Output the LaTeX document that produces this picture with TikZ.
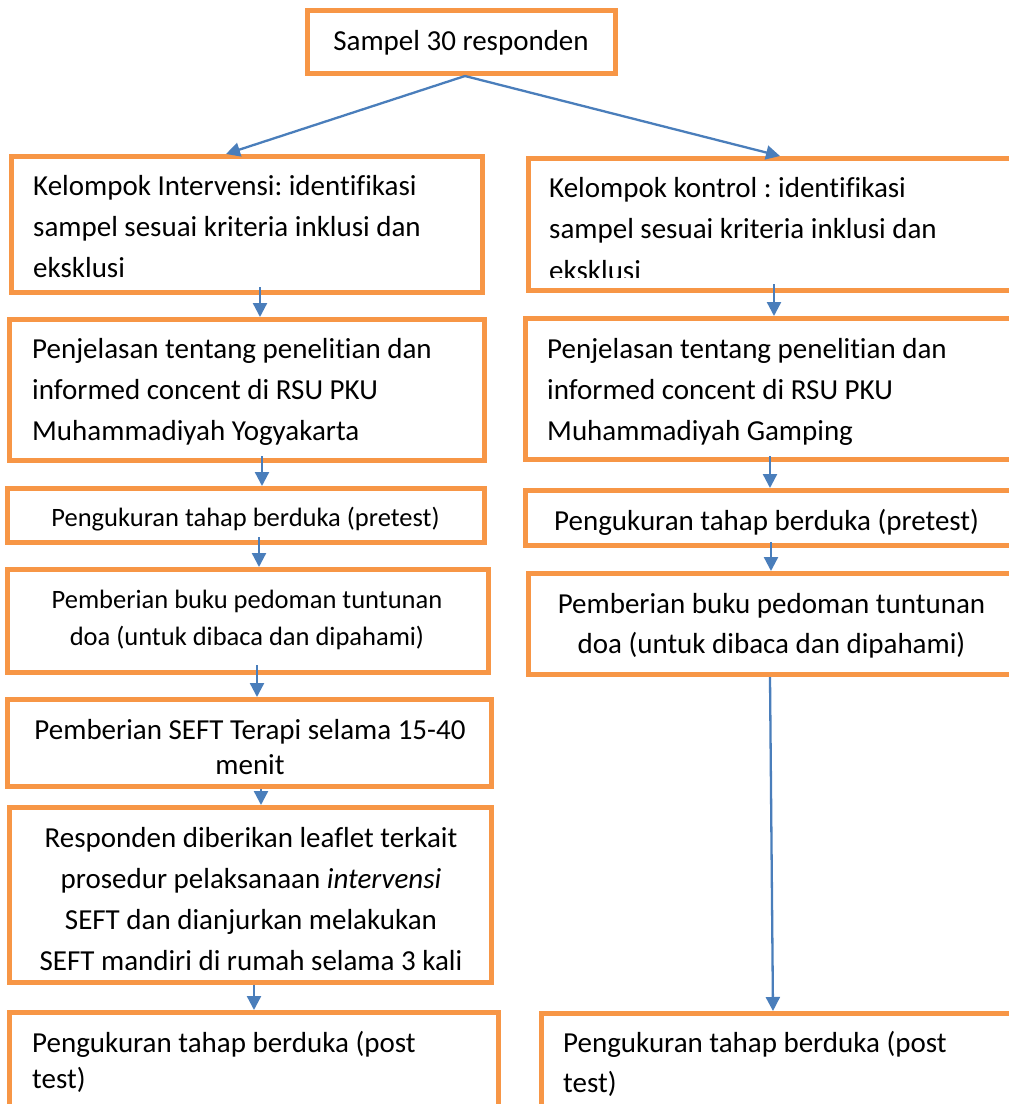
\documentclass[tikz,border=0pt]{standalone}
\usepackage{fontspec}
\setmainfont{Carlito}[Ligatures={NoCommon}]
\usetikzlibrary{arrows.meta,calc}
\definecolor{boxor}{HTML}{F79646}
\definecolor{arrblue}{HTML}{4A7EBB}
\newcommand{\llines}[1]{\begin{tabular}[t]{@{}l@{}}#1\end{tabular}}
\newcommand{\clines}[1]{\begin{tabular}[t]{@{}c@{}}#1\end{tabular}}
\frenchspacing
\tikzset{
  box/.style={draw=boxor, line width=5pt, rectangle, inner sep=0pt, anchor=north west, fill=white},
  txt/.style={inner sep=0pt, anchor=base west, text=black},
  ctxt/.style={inner sep=0pt, anchor=base, text=black},
  arr/.style={draw=arrblue, line width=2.3pt, -{Triangle[length=14pt,width=14pt]}},
  big/.style={font=\fontsize{29}{41}\selectfont},
  small/.style={font=\fontsize{26.5}{37}\selectfont}
}
\begin{document}
\begin{tikzpicture}[x=1pt,y=-1pt]
\useasboundingbox[fill=white] (0,0) rectangle (1009,1104);
% boxes (outer top-left corner; size = centre-line size)
\node[box, minimum width=308pt, minimum height=63pt] (T) at (305,8) {};
\node[box, minimum width=471pt, minimum height=136pt] (L1) at (9,154) {};
\node[box, minimum width=482.5pt, minimum height=132pt] (R1) at (526,156) {};
\node[box, minimum width=475pt, minimum height=141pt] (L2) at (7,317) {};
\node[box, minimum width=489pt, minimum height=141pt] (R2) at (523,316) {};
\node[box, minimum width=477pt, minimum height=54pt] (L3) at (5,486) {};
\node[box, minimum width=489pt, minimum height=55pt] (R3) at (523,488) {};
\node[box, minimum width=481pt, minimum height=103pt] (L4) at (5,567) {};
\node[box, minimum width=486pt, minimum height=101pt] (R4) at (526,571) {};
\node[box, minimum width=484pt, minimum height=87pt] (L5) at (5,697) {};
\node[box, minimum width=482pt, minimum height=175pt] (L6) at (7,805) {};
\node[box, minimum width=489pt, minimum height=110pt] (L7) at (7,1010) {};
\node[box, minimum width=469.5pt, minimum height=109pt] (R7) at (539,1011) {};
% texts
\node[ctxt, big] (tT) at (461,50) {Sampel 30 responden};
\node[txt, big] (tL1) at (33,195) {\llines{Kelompok Intervensi: identifikasi\\sampel sesuai kriteria inklusi dan\\eksklusi}};
\begin{scope}
\clip (528,160) rectangle (1009,277.5);
\node[txt, font=\fontsize{29}{41.5}\selectfont] (tR1) at (549,197) {\llines{Kelompok kontrol : identifikasi\\sampel sesuai kriteria inklusi dan\\eksklusi}};
\end{scope}
\node[txt, big] (tL2) at (32,358) {\llines{Penjelasan tentang penelitian dan\\informed concent di RSU PKU\\Muhammadiyah Yogyakarta}};
\node[txt, big] (tR2) at (547,358) {\llines{Penjelasan tentang penelitian dan\\informed concent di RSU PKU\\Muhammadiyah Gamping}};
\node[ctxt, small] (tL3) at (245.5,526) {Pengukuran tahap berduka (pretest)};
\begin{scope}
\clip (525,490) rectangle (1009,535);
\node[txt, big] (tR3) at (554,530) {Pengukuran tahap berduka (pretest)};
\end{scope}
\node[ctxt, small] (tL4) at (247,608) {\clines{Pemberian buku pedoman tuntunan\\doa (untuk dibaca dan dipahami)}};
\node[ctxt, font=\fontsize{29}{40}\selectfont] (tR4) at (771.5,613) {\clines{Pemberian buku pedoman tuntunan\\doa (untuk dibaca dan dipahami)}};
\node[ctxt, font=\fontsize{29}{35}\selectfont] (tL5) at (250,739) {\clines{Pemberian SEFT Terapi selama 15-40\\menit}};
\node[ctxt, big] (tL6) at (251,847) {\clines{Responden diberikan leaflet terkait\\prosedur pelaksanaan \textit{intervensi}\\SEFT dan dianjurkan melakukan\\SEFT mandiri di rumah selama 3 kali}};
\node[txt, font=\fontsize{29}{36}\selectfont] (tL7) at (32,1052) {\llines{Pengukuran tahap berduka (post\\test)}};
\node[txt, font=\fontsize{29}{40}\selectfont] (tR7) at (563,1052) {\llines{Pengukuran tahap berduka (post\\test)}};
% connectors
\draw[arr] (T.south -| 465,0) -- (L1.north -| 226,0);
\draw[arr] (T.south -| 465,0) -- (R1.north -| 780,0);
\draw[arr] ($(L1.south -| 260,0)+(0,-8)$) -- (L2.north -| 260,0);
\draw[arr] ($(L2.south -| 262,0)+(0,-7)$) -- (L3.north -| 262,0);
\draw[arr] ($(L3.south -| 259,0)+(0,-8)$) -- (L4.north -| 259,0);
\draw[arr] ($(L4.south -| 257,0)+(0,-10)$) -- (L5.north -| 257,0);
\draw[arr] (L5.south -| 261,0) -- (L6.north -| 261,0);
\draw[arr] (L6.south -| 254,0) -- (L7.north -| 254,0);
\draw[arr] ($(R1.south -| 774,0)+(0,-9)$) -- (R2.north -| 774,0);
\draw[arr] ($(R2.south -| 770,0)+(0,-6)$) -- (R3.north -| 770,0);
\draw[arr] ($(R3.south -| 771,0)+(0,-6)$) -- (R4.north -| 771,0);
\draw[arr] (R4.south -| 770,0) -- (R7.north -| 773,0);
\end{tikzpicture}
\end{document}
